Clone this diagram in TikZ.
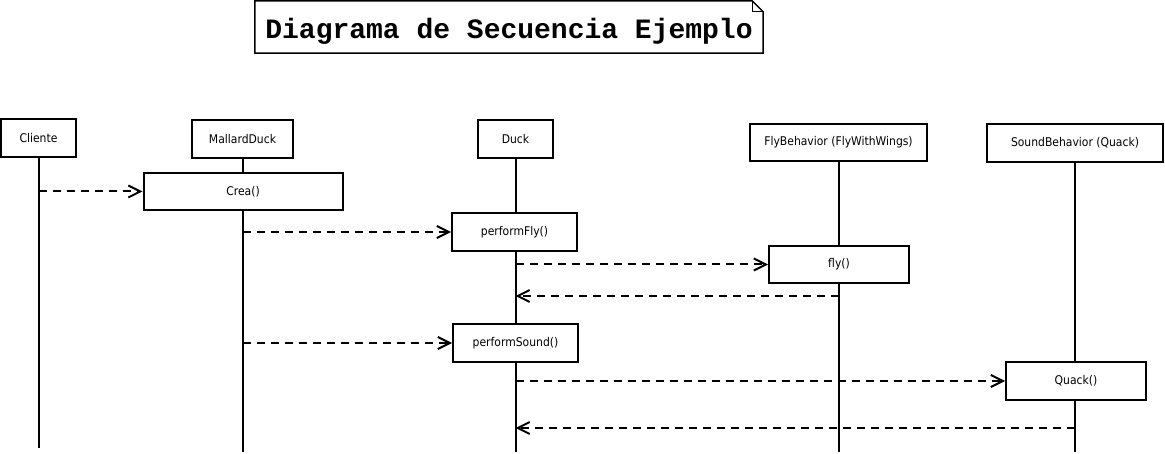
\documentclass[tikz,border=0pt]{standalone}
\usepackage{fontspec}
\setmainfont{DejaVu Sans}
\newfontfamily\titlefont{Liberation Mono}
\newfontfamily\umlfont[FakeStretch=0.9]{DejaVu Sans}
\usetikzlibrary{arrows.meta,positioning,calc}

\tikzset{
  obj/.style={draw, line width=2pt, fill=white, minimum height=38pt, inner sep=2pt,
    font=\umlfont\fontsize{12}{14}\selectfont},
  act/.style={obj},
  life/.style={line width=2pt},
  msg/.style={line width=2pt, dash pattern=on 8pt off 6pt,
    -{Straight Barb[length=12pt,width=12pt]}},
}

\begin{document}
\begin{tikzpicture}[x=1pt, y=-1pt]
    \useasboundingbox (0,0) rectangle (1165,454);

    % Titulo (nota)
    \node [font=\titlefont\bfseries\fontsize{28}{30}\selectfont, minimum width=508pt,
      minimum height=52pt, inner sep=0pt, text height=23pt, text depth=0pt] (title) at (509,27)
      {Diagrama de Secuencia Ejemplo};
    \draw [line width=1.5pt] (title.north west) -- ([xshift=-11pt]title.north east)
      -- ([yshift=-11pt]title.north east) -- (title.south east) -- (title.south west) -- cycle;
    \draw [line width=1pt] ([xshift=-11pt]title.north east)
      -- ([xshift=-11pt,yshift=-11pt]title.north east) -- ([yshift=-11pt]title.north east);

    % Objetos
    \node [obj, minimum width=75pt] (cli) at (38.5,138) {Cliente};
    \node [obj, minimum width=101pt] (mallard) at (242.5,139) {MallardDuck};
    \node [obj, minimum width=75pt] (duck) at (515.5,139) {Duck};
    \node [obj, minimum width=177pt, minimum height=37pt] (flyb) at (838.5,142.5) {FlyBehavior (FlyWithWings)};
    \node [obj, minimum width=176pt] (sound) at (1075,143) {SoundBehavior (Quack)};

    % Lineas de vida
    \coordinate (bot) at (0,452);
    \coordinate (botc) at (0,448);
    \draw [life] (cli.south) -- (cli.south |- botc);
    \foreach \n in {mallard, duck, flyb, sound}
        \draw [life] (\n.south) -- (\n.south |- bot);

    % Activaciones
    \node [act, minimum width=199pt, minimum height=37pt] (crea) at (243,191.5) {Crea()};
    \node [act, minimum width=125pt] (pfly) at (514.5,232) {performFly()};
    \node [act, minimum width=140pt, minimum height=37pt] (fly) at (839,264.5) {fly()};
    \node [act, minimum width=125pt] (psound) at (515.5,343) {performSound()};
    \node [act, minimum width=140pt] (quack) at (1076,381) {Quack()};

    % Mensajes
    \draw [msg] (cli |- crea.west) -- (crea.west);
    \draw [msg] (mallard |- pfly.west) -- (pfly.west);
    \draw [msg] (duck |- fly.west) -- (fly.west);
    \coordinate (r1) at (838.5,296);
    \draw [msg] (r1) -- (duck |- r1);
    \draw [msg] (mallard |- psound.west) -- (psound.west);
    \draw [msg] (duck |- quack.west) -- (quack.west);
    \coordinate (r2) at (1075,428);
    \draw [msg] (r2) -- (duck |- r2);
\end{tikzpicture}
\end{document}
